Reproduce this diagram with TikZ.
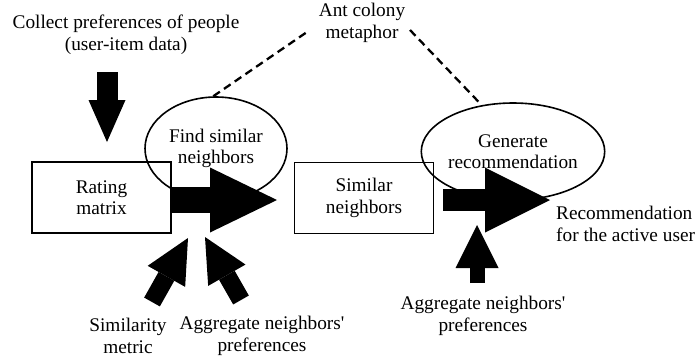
\documentclass[tikz,border=0pt]{standalone}
\usepackage{fontspec}
\setmainfont{Liberation Serif}
\usetikzlibrary{shapes.geometric}
\usetikzlibrary{arrows.meta}

\tikzset{
  box/.style={draw, line width=1.8pt, minimum width=139pt, minimum height=71pt, align=center, inner sep=0pt},
  oval/.style={draw, ellipse, line width=1.6pt, align=center, inner sep=0pt},
  txt/.style={align=center, inner sep=0pt},
  metaline/.style={line width=2.3pt, dash pattern=on 8pt off 5pt},
  fatarrow/.style n args={3}{line width=#1, -{Triangle[length=#2, width=#3, line width=0pt]}}
}

\begin{document}
\begin{tikzpicture}[x=1pt, y=-1pt, font=\fontsize{19.3}{21.5}\selectfont]
	\useasboundingbox (0,0) rectangle (697,360);
	% boxes and ovals
	\node [box] (rating) at (101.5,197.5) {Rating\\matrix};
	\node [box] (similar) at (364,198) {Similar\\neighbors};
	\node [oval, minimum width=142pt, minimum height=103pt] (find) at (216,148.5) {Find similar\\neighbors};
	\node [oval, minimum width=170pt, minimum height=97pt] (gen) at (513,151.5) {Generate\\recommendation};
	% texts
	\node [txt] (collect) at (126,35) {Collect preferences of people\\(user-item data)};
	\node [txt] (ant) at (362,23) {Ant colony\\metaphor};
	\node [txt, anchor=west, align=left] (result) at (556,224) {Recommendation\\for the active user};
	\node [txt] (metric) at (128,336) {Similarity\\metric};
	\node [txt] (aggA) at (262,336) {Aggregate neighbors\textquotesingle\\preferences};
	\node [txt] (aggB) at (483,316) {Aggregate neighbors\textquotesingle\\preferences};
	% dashed links
	\coordinate (antL) at (307,32);
	\coordinate (antR) at (410,30);
	\draw [metaline] (find.93) -- (antL);
	\draw [metaline] (antR) -- (gen.124);
	% fat arrows
	\coordinate (tip1) at (277,200);
	\coordinate (tip2) at (550,200);
	\draw [fatarrow={26pt}{67pt}{65pt}] (rating.east |- tip1) -- (tip1);
	\draw [fatarrow={22pt}{65pt}{65pt}] ([xshift=9pt]similar.east |- tip2) -- (tip2);
	\coordinate (inTail) at (107,72);
	\coordinate (inTip) at (107,142);
	\draw [fatarrow={21pt}{42pt}{37pt}] (inTail) -- (inTip);
	\coordinate (metricTail) at (152,302);
	\coordinate (metricTip) at (188,238);
	\draw [fatarrow={18pt}{44pt}{43pt}] (metricTail) -- (metricTip);
	\coordinate (aggATail) at (241,300);
	\coordinate (aggATip) at (205,237);
	\draw [fatarrow={18pt}{44pt}{43pt}] (aggATail) -- (aggATip);
	\coordinate (aggBTail) at (477,283);
	\coordinate (aggBTip) at (477,225);
	\draw [fatarrow={15pt}{43pt}{43pt}] (aggBTail) -- (aggBTip);
\end{tikzpicture}
\end{document}
